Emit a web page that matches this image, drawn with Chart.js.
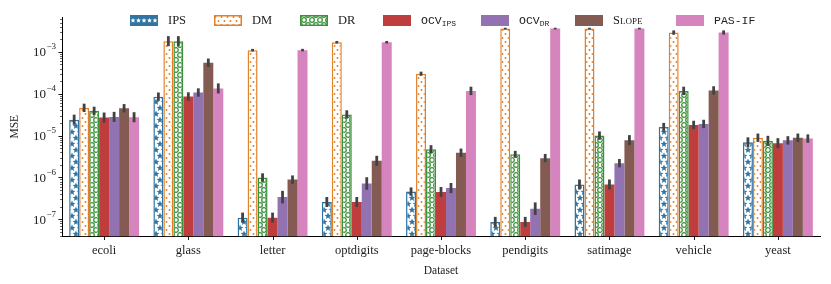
<!DOCTYPE html>
<html>
<head>
<meta charset="utf-8">
<script src="https://cdn.jsdelivr.net/npm/chart.js@4.4.1/dist/chart.umd.min.js"></script>
<style>
  html, body { margin: 0; padding: 0; background: #fff; }
  #wrap { position: relative; width: 831px; height: 284px; }
  #legend { position: absolute; left: 0; top: 0; width: 831px; height: 30px; font-family: 'Liberation Serif', serif; font-size: 12.5px; color: #222; }
  .item { position: absolute; top: 13px; display: flex; align-items: center; }
  .item canvas { width: 28px; height: 11px; margin-right: 10px; }
  .mono { font-family: 'Liberation Mono', 'DejaVu Sans Mono', monospace; font-size: 11.5px; }
  .mono sub { font-size: 8px; vertical-align: -2px; }
  .sc { font-variant: small-caps; }
</style>
</head>
<body>
<div id="wrap">
  <canvas id="chart" width="831" height="284"></canvas>
  <div id="legend"></div>
</div>
<script>
// Data
const categories = ['ecoli', 'glass', 'letter', 'optdigits', 'page-blocks', 'pendigits', 'satimage', 'vehicle', 'yeast'];
const ips    = [2.4e-5, 8.5e-5, 1.1e-7, 2.6e-7, 4.6e-7, 8.7e-8, 6.8e-7, 1.6e-5, 6.9e-6];
const dm     = [4.6e-5, 1.8e-3, 1.1e-3, 1.7e-3, 3.0e-4, 3.6e-3, 3.6e-3, 2.9e-3, 8.9e-6];
const dr     = [3.9e-5, 1.8e-3, 1.0e-6, 3.2e-5, 4.7e-6, 3.6e-6, 1.0e-5, 1.17e-4, 7.5e-6];
const ocvIps = [2.7e-5, 8.6e-5, 1.1e-7, 2.6e-7, 4.5e-7, 8.7e-8, 6.8e-7, 1.8e-5, 6.6e-6];
const ocvDr  = [2.8e-5, 1.07e-4, 3.4e-7, 7.2e-7, 5.6e-7, 1.8e-7, 2.2e-6, 1.9e-5, 7.7e-6];
const slope  = [4.5e-5, 5.5e-4, 8.9e-7, 2.5e-6, 3.9e-6, 2.9e-6, 7.8e-6, 1.2e-4, 8.9e-6];
const pasIf  = [2.75e-5, 1.34e-4, 1.1e-3, 1.7e-3, 1.17e-4, 3.6e-3, 3.6e-3, 2.9e-3, 8.5e-6];

// error bar half-widths, in decades
const ipsErr    = [0.12, 0.1, 0.12, 0.12, 0.1, 0.12, 0.12, 0.1, 0.12];
const dmErr     = [0.1, 0.12, 0.03, 0.03, 0.05, 0.02, 0.02, 0.05, 0.1];
const drErr     = [0.1, 0.12, 0.1, 0.1, 0.1, 0.08, 0.1, 0.1, 0.12];
const ocvIpsErr = [0.12, 0.1, 0.12, 0.12, 0.12, 0.12, 0.12, 0.1, 0.12];
const ocvDrErr  = [0.12, 0.1, 0.15, 0.15, 0.12, 0.15, 0.1, 0.1, 0.1];
const slopeErr  = [0.1, 0.1, 0.1, 0.12, 0.1, 0.1, 0.12, 0.1, 0.1];
const pasIfErr  = [0.12, 0.12, 0.03, 0.03, 0.1, 0.02, 0.02, 0.05, 0.1];

const yMin = 3.9e-8;
const yMax = 6.8e-3;
const yExponents = [-7, -6, -5, -4, -3];

// Colors (seaborn desaturated tab10)
const BLUE = '#3274a1', ORANGE = '#e1812c', GREEN = '#3a923a', RED = '#c03d3e',
      PURPLE = '#9372b2', BROWN = '#845b53', PINK = '#d684bd', ERR = '#424242';

// Hatch patterns
function star(ctx, cx, cy, r) {
    ctx.beginPath();
    for (let i = 0; i < 10; i++) {
        const a = -Math.PI / 2 + i * Math.PI / 5;
        const rr = i % 2 === 0 ? r : r * 0.45;
        ctx.lineTo(cx + rr * Math.cos(a), cy + rr * Math.sin(a));
    }
    ctx.closePath();
    ctx.fill();
}

function makePattern(kind) {
    const c = document.createElement('canvas');
    const ctx = c.getContext('2d');
    if (kind === 'star') {
        c.width = 8; c.height = 12;
        ctx.fillStyle = '#fff';
        ctx.fillRect(0, 0, 8, 12);
        ctx.fillStyle = BLUE;
        [[0, 0], [8, 0], [0, 12], [8, 12], [4, 6]].forEach(p => star(ctx, p[0], p[1], 3.6));
    } else if (kind === 'dot') {
        c.width = 6; c.height = 8;
        ctx.fillStyle = '#fff';
        ctx.fillRect(0, 0, 6, 8);
        ctx.fillStyle = ORANGE;
        [[1.5, 2], [4.5, 6]].forEach(p => { ctx.beginPath(); ctx.arc(p[0], p[1], 1, 0, Math.PI * 2); ctx.fill(); });
    } else {
        c.width = 8; c.height = 10;
        ctx.fillStyle = '#fff';
        ctx.fillRect(0, 0, 8, 10);
        ctx.strokeStyle = GREEN;
        ctx.lineWidth = 1.3;
        [[0, 0], [8, 0], [0, 10], [8, 10], [4, 5]].forEach(p => { ctx.beginPath(); ctx.arc(p[0], p[1], 2.3, 0, Math.PI * 2); ctx.stroke(); });
    }
    return c;
}

const mainCtx = document.getElementById('chart').getContext('2d');
const starPat = mainCtx.createPattern(makePattern('star'), 'repeat');
const dotPat = mainCtx.createPattern(makePattern('dot'), 'repeat');
const ringPat = mainCtx.createPattern(makePattern('ring'), 'repeat');

const series = [
    { label: 'IPS', data: ips, err: ipsErr, bg: starPat, border: BLUE, bw: 1.5 },
    { label: 'DM', data: dm, err: dmErr, bg: dotPat, border: ORANGE, bw: 1.5 },
    { label: 'DR', data: dr, err: drErr, bg: ringPat, border: GREEN, bw: 1.5 },
    { label: 'OCV_IPS', data: ocvIps, err: ocvIpsErr, bg: RED, border: RED, bw: 0 },
    { label: 'OCV_DR', data: ocvDr, err: ocvDrErr, bg: PURPLE, border: PURPLE, bw: 0 },
    { label: 'Slope', data: slope, err: slopeErr, bg: BROWN, border: BROWN, bw: 0 },
    { label: 'PAS-IF', data: pasIf, err: pasIfErr, bg: PINK, border: PINK, bw: 0 }
];

// Error bars
const errorBars = {
    id: 'errorBars',
    afterDatasetsDraw(chart) {
        const ctx = chart.ctx;
        const y = chart.scales.y;
        ctx.save();
        ctx.strokeStyle = ERR;
        ctx.lineWidth = 2.8;
        chart.data.datasets.forEach((ds, di) => {
            const meta = chart.getDatasetMeta(di);
            meta.data.forEach((bar, i) => {
                const v = ds.data[i];
                const e = series[di].err[i];
                const lo = y.getPixelForValue(v * Math.pow(10, -e));
                const hi = y.getPixelForValue(v * Math.pow(10, e));
                ctx.beginPath();
                ctx.moveTo(bar.x, lo);
                ctx.lineTo(bar.x, hi);
                ctx.stroke();
            });
        });
        ctx.restore();
    }
};

// Axis tick marks (major + minor, outward) and 10^n labels
const tickMarks = {
    id: 'tickMarks',
    afterDraw(chart) {
        const ctx = chart.ctx;
        const y = chart.scales.y;
        const x = chart.scales.x;
        const area = chart.chartArea;
        ctx.save();
        ctx.strokeStyle = '#000';
        for (let p = -8; p <= -2; p++) {
            for (let m = 1; m <= 9; m++) {
                const v = m * Math.pow(10, p);
                if (v < yMin || v > yMax) continue;
                const py = Math.round(y.getPixelForValue(v)) + 0.5;
                const major = m === 1;
                ctx.lineWidth = major ? 0.9 : 0.6;
                ctx.beginPath();
                ctx.moveTo(area.left, py);
                ctx.lineTo(area.left - (major ? 3.5 : 2), py);
                ctx.stroke();
            }
        }
        ctx.lineWidth = 0.9;
        categories.forEach((c, i) => {
            const px = Math.round(x.getPixelForValue(i)) + 0.5;
            ctx.beginPath();
            ctx.moveTo(px, area.bottom);
            ctx.lineTo(px, area.bottom + 3.5);
            ctx.stroke();
        });
        // y labels: 10 with raised exponent
        ctx.fillStyle = '#222';
        ctx.textBaseline = 'middle';
        yExponents.forEach(p => {
            const py = y.getPixelForValue(Math.pow(10, p));
            const expText = '\u2212' + Math.abs(p);
            ctx.font = '9px "Liberation Serif"';
            const ew = ctx.measureText(expText).width;
            const right = area.left - 6;
            ctx.textAlign = 'right';
            ctx.fillText(expText, right, py - 5);
            ctx.font = '13px "Liberation Serif"';
            ctx.fillText('10', right - ew - 0.5, py + 1);
        });
        ctx.restore();
    }
};

const chart = new Chart(mainCtx, {
    type: 'bar',
    data: {
        labels: categories,
        datasets: series.map(s => ({
            label: s.label,
            data: s.data,
            backgroundColor: s.bg,
            borderColor: s.border,
            borderWidth: s.bw,
            categoryPercentage: 0.83,
            barPercentage: 1.0
        }))
    },
    options: {
        responsive: false,
        animation: false,
        layout: { padding: { top: 17, right: 11, left: 0, bottom: 0 } },
        plugins: {
            legend: { display: false },
            tooltip: { enabled: false }
        },
        scales: {
            x: {
                grid: { display: false, drawTicks: false },
                border: { display: true, color: '#000', width: 1 },
                ticks: { color: '#222', padding: 7, font: { family: 'Liberation Serif', size: 12.5 } },
                title: { display: true, text: 'Dataset', color: '#222', padding: { top: 2, bottom: 6 }, font: { family: 'Liberation Serif', size: 11.5 } },
                afterFit(scale) { scale.height = 47.5; }
            },
            y: {
                type: 'logarithmic',
                min: yMin,
                max: yMax,
                grid: { display: false, drawTicks: false },
                border: { display: true, color: '#000', width: 1 },
                ticks: { display: false },
                title: { display: true, text: 'MSE', color: '#222', padding: { top: 8, bottom: 0 }, font: { family: 'Liberation Serif', size: 11.5 } },
                afterFit(scale) { scale.width = 62; }
            }
        }
    },
    plugins: [errorBars, tickMarks]
});

// HTML legend
const legendPos = [130, 214, 300, 383, 481, 575, 676];
const legendHtml = [
    'IPS', 'DM', 'DR',
    '<span class="mono">OCV<sub>IPS</sub></span>',
    '<span class="mono">OCV<sub>DR</sub></span>',
    '<span class="sc">Slope</span>',
    '<span class="mono">PAS-IF</span>'
];
const legend = document.getElementById('legend');
series.forEach((s, i) => {
    const item = document.createElement('div');
    item.className = 'item';
    item.style.left = legendPos[i] + 'px';
    const sw = document.createElement('canvas');
    sw.width = 28; sw.height = 11;
    const c = sw.getContext('2d');
    if (i === 0) {
        c.fillStyle = BLUE;
        c.fillRect(0, 0, 28, 11);
        c.fillStyle = '#fff';
        for (let k = 0; k < 5; k++) star(c, 3 + k * 5.5, 5.5, 2.6);
    } else if (s.bw > 0) {
        c.fillStyle = s.bg;
        c.fillRect(0, 0, 28, 11);
        c.strokeStyle = s.border;
        c.lineWidth = 1.5;
        c.strokeRect(0.75, 0.75, 26.5, 9.5);
    } else {
        c.fillStyle = s.bg;
        c.fillRect(0, 0, 28, 11);
    }
    item.appendChild(sw);
    const t = document.createElement('span');
    t.innerHTML = legendHtml[i];
    item.appendChild(t);
    legend.appendChild(item);
});
</script>
</body>
</html>
